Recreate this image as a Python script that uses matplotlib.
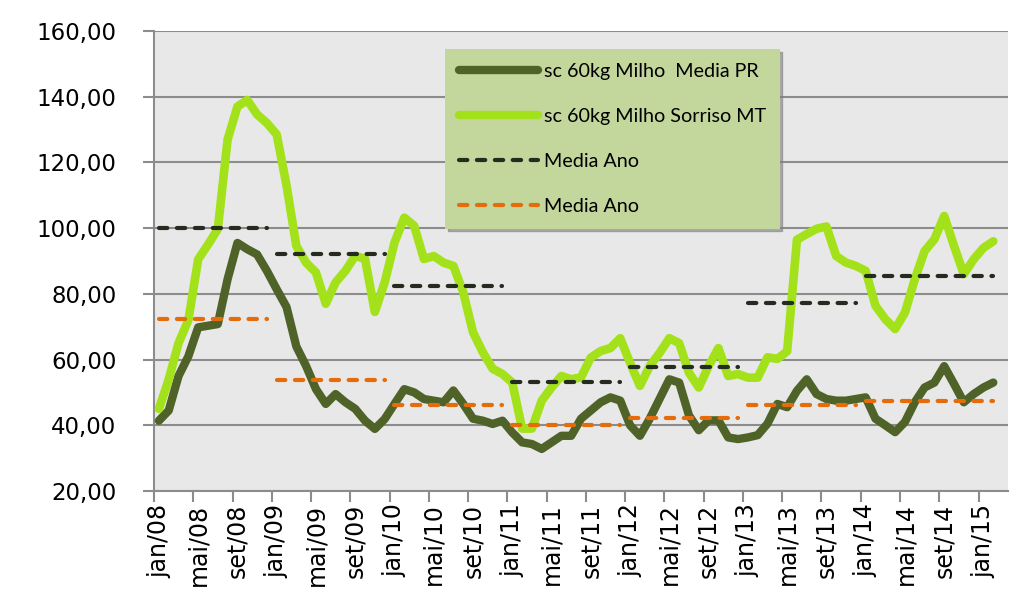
import numpy as np
import matplotlib.pyplot as plt
from matplotlib.lines import Line2D

# Monthly prices, jan/08 .. fev/15 (R$ per 60 kg bag)
milho_pr = [41.4, 44.5, 55.0, 61.0, 69.8, 70.3, 70.8, 84.5, 95.5, 93.6, 92.0, 87.0,
            81.4, 76.0, 64.0, 58.0, 51.0, 46.5, 49.5, 47.0, 45.0, 41.4, 38.9, 41.9,
            46.5, 51.0, 50.0, 48.0, 47.5, 47.0, 50.6, 46.5, 42.0, 41.4, 40.4, 41.4,
            37.8, 34.8, 34.3, 32.8, 34.8, 36.8, 36.8, 42.0, 44.5, 47.0, 48.5, 47.5,
            40.0, 36.8, 42.0, 48.0, 54.0, 53.0, 43.0, 38.5, 41.5, 41.5, 36.3, 35.8,
            36.3, 37.0, 40.5, 46.5, 45.5, 50.5, 54.0, 49.5, 48.0, 47.5, 47.5, 48.0,
            48.5, 42.0, 40.0, 37.9, 41.0, 47.0, 51.5, 53.0, 58.0, 52.6, 47.0, 49.5,
            51.5, 53.0]
milho_mt = [45.0, 54.0, 65.0, 72.0, 90.5, 95.0, 99.7, 127.0, 137.0, 139.0, 134.6, 132.0,
            128.5, 113.0, 94.6, 89.5, 86.5, 77.0, 83.5, 87.0, 91.6, 90.6, 74.5, 83.5,
            95.6, 103.2, 100.7, 90.6, 91.5, 89.5, 88.5, 80.5, 68.3, 62.2, 57.2, 55.6,
            53.0, 39.0, 39.0, 47.5, 51.5, 55.0, 54.0, 54.6, 60.6, 62.6, 63.5, 66.5,
            59.0, 52.0, 58.0, 62.0, 66.5, 65.0, 56.0, 51.5, 58.0, 63.5, 55.0, 55.6,
            54.5, 54.5, 60.7, 60.2, 62.5, 96.5, 98.2, 99.8, 100.5, 91.5, 89.5, 88.5,
            87.0, 76.4, 72.3, 69.3, 74.3, 84.4, 93.0, 96.6, 103.7, 94.6, 86.0, 90.5,
            94.0, 96.0]

# yearly averages: first and last month index of each segment
media_ini = [0, 12, 24, 36, 48, 60, 72]
media_fim = [11, 23, 35, 47, 59, 71, 85]
media_mt = [100.0, 92.0, 82.4, 53.3, 57.7, 77.3, 85.5]
media_pr = [72.5, 53.9, 46.1, 40.0, 42.3, 46.1, 47.3]

tick_labels = ["jan/08", "mai/08", "set/08", "jan/09", "mai/09", "set/09",
               "jan/10", "mai/10", "set/10", "jan/11", "mai/11", "set/11",
               "jan/12", "mai/12", "set/12", "jan/13", "mai/13", "set/13",
               "jan/14", "mai/14", "set/14", "jan/15"]
n_categorias = 87

c_pr = '#4f6228'
c_mt = '#a3e21a'
c_med_mt = '#252b1f'
c_med_pr = '#e46c0a'

fig = plt.figure(figsize=(10.23, 6.14), dpi=100)
ax = fig.add_axes([154/1023, 1 - 491/614, 854/1023, 460/614])
ax.set_facecolor('#e8e8e8')

x = np.arange(len(milho_pr))
ax.plot(x, milho_pr, color=c_pr, lw=6.0, solid_joinstyle='round', solid_capstyle='round', zorder=3)
ax.plot(x, milho_mt, color=c_mt, lw=6.2, solid_joinstyle='round', solid_capstyle='round', zorder=4)

for i in range(len(media_ini)):
    xs = [media_ini[i], media_fim[i]]
    ax.plot(xs, [media_mt[i]] * 2, color=c_med_mt, lw=3.0, dashes=(2.0, 2.3),
            dash_capstyle='round', zorder=5)
    ax.plot(xs, [media_pr[i]] * 2, color=c_med_pr, lw=3.0, dashes=(2.0, 2.3),
            dash_capstyle='round', zorder=5)

ax.set_xlim(-0.5, n_categorias - 0.5)
ax.set_ylim(20, 160)
ax.set_yticks(np.arange(20, 161, 20))
ax.set_yticklabels(["{:.2f}".format(v).replace('.', ',') for v in np.arange(20, 161, 20)])
ax.yaxis.grid(True, color='#8c8c8c', lw=1.5)
ax.set_axisbelow(True)

ax.set_xticks(np.arange(len(tick_labels)) * 4 - 0.5)
ax.set_xticklabels([])
ax.set_xticks(np.arange(len(tick_labels)) * 4, minor=True)
ax.set_xticklabels(tick_labels, minor=True, rotation=90)

ax.tick_params(axis='y', length=8, width=1.5, color='#8c8c8c', pad=19, labelsize=16.5)
ax.tick_params(axis='x', which='major', length=8, width=1.5, color='#8c8c8c')
ax.tick_params(axis='x', which='minor', length=0, pad=9, labelsize=17)

for s in ['top', 'right']:
    ax.spines[s].set_visible(False)
for s in ['left', 'bottom']:
    ax.spines[s].set_color('#8c8c8c')
    ax.spines[s].set_linewidth(1.5)

handles = [Line2D([], [], color=c_pr, lw=6.0, solid_capstyle='round'),
           Line2D([], [], color=c_mt, lw=6.0, solid_capstyle='round'),
           Line2D([], [], color=c_med_mt, lw=3.0, dashes=(2.0, 2.3), dash_capstyle='round'),
           Line2D([], [], color=c_med_pr, lw=3.0, dashes=(2.0, 2.3), dash_capstyle='round')]
labels = ["sc 60kg Milho  Media PR", "sc 60kg Milho Sorriso MT", "Media Ano", "Media Ano"]
leg = ax.legend(handles, labels, loc='upper left', bbox_to_anchor=(445/1023, 1 - 49/614),
                bbox_transform=fig.transFigure, borderaxespad=0, frameon=True,
                fancybox=False, facecolor='#c3d69b', edgecolor='none', framealpha=1,
                shadow={'color': '#7f7f7f', 'alpha': 0.6}, prop={'family': 'Lato', 'size': 14.2},
                handlelength=4.0, handletextpad=0.3, labelspacing=1.42, borderpad=0.7)
leg.set_zorder(10)

fig.savefig('out.png', dpi=100)
